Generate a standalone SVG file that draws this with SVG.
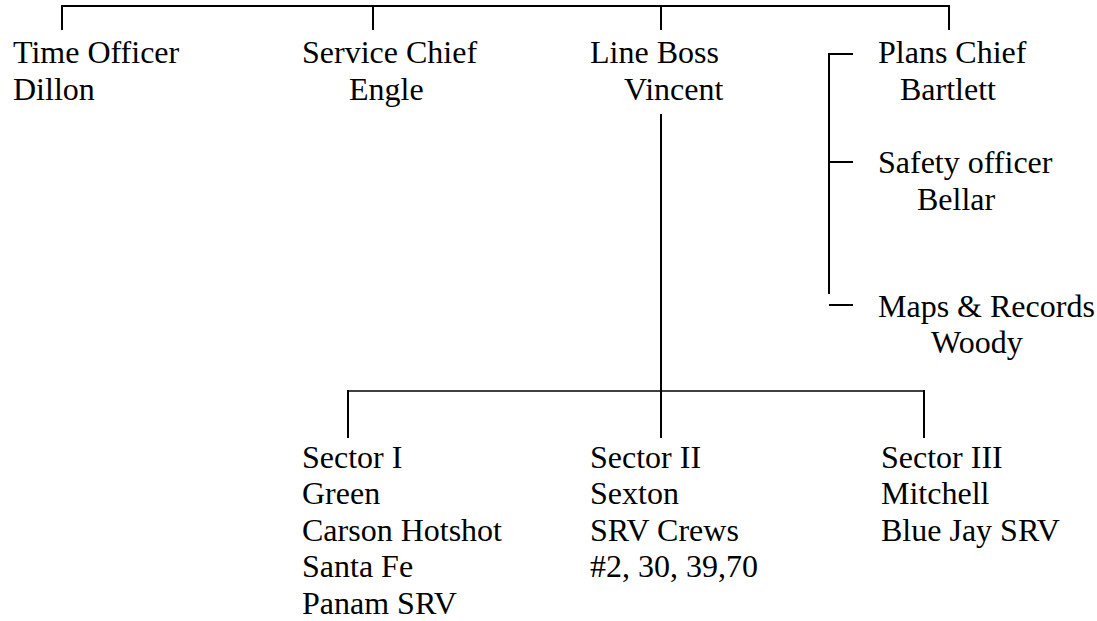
<svg xmlns="http://www.w3.org/2000/svg" width="1097" height="621" viewBox="0 0 1097 621">
  <style>
    .conn { stroke: #000; stroke-width: 2; fill: none; }
    .thin { stroke-width: 1.6; }
    .lbl { font-family: 'Liberation Serif', Tinos, 'Times New Roman', Times, 'DejaVu Serif', serif; font-size: 32px; fill: #000; }
  </style>
  <rect width="1097" height="621" fill="#fff"/>

  <!-- connectors -->
  <g id="connectors">
    <!-- top bar with drops to the staff positions -->
    <path class="conn" d="M62 6 H949 M62 5 V30 M373 6 V30 M661 6 V30 M949 5 V30"/>
    <!-- plans bracket -->
    <path class="conn" d="M829 54 V294 M828 54 H853 M829 162 H853 M829 305 H853"/>
    <!-- line boss down to sectors -->
    <path class="conn" d="M661 114 V438"/>
    <path class="conn thin" d="M348 391 H924"/>
    <path class="conn" d="M348 390 V438 M924 390 V438"/>
  </g>

  <g id="time-officer" class="lbl">
    <text x="13" y="63">Time Officer</text>
    <text x="13" y="100">Dillon</text>
  </g>
  <g id="service-chief" class="lbl">
    <text x="302" y="63">Service Chief</text>
    <text x="349" y="100">Engle</text>
  </g>
  <g id="line-boss" class="lbl">
    <text x="590" y="63">Line Boss</text>
    <text x="624" y="100">Vincent</text>
  </g>
  <g id="plans-chief" class="lbl">
    <text x="878" y="63">Plans Chief</text>
    <text x="900" y="100">Bartlett</text>
  </g>
  <g id="safety-officer" class="lbl">
    <text x="878" y="173">Safety officer</text>
    <text x="917" y="210">Bellar</text>
  </g>
  <g id="maps-records" class="lbl">
    <text x="878" y="317">Maps &amp; Records</text>
    <text x="931" y="353">Woody</text>
  </g>
  <g id="sector-1" class="lbl">
    <text x="302" y="468">Sector I</text>
    <text x="302" y="504">Green</text>
    <text x="302" y="541">Carson Hotshot</text>
    <text x="302" y="577">Santa Fe</text>
    <text x="302" y="614">Panam SRV</text>
  </g>
  <g id="sector-2" class="lbl">
    <text x="590" y="468">Sector II</text>
    <text x="590" y="504">Sexton</text>
    <text x="590" y="541">SRV Crews</text>
    <text x="590" y="577">#2, 30, 39,70</text>
  </g>
  <g id="sector-3" class="lbl">
    <text x="881" y="468">Sector III</text>
    <text x="881" y="504">Mitchell</text>
    <text x="881" y="541">Blue Jay SRV</text>
  </g>
</svg>
